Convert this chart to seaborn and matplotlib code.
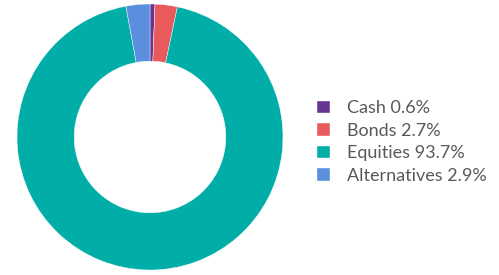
import matplotlib
matplotlib.use("Agg")
import matplotlib.pyplot as plt
import seaborn as sns

# Asset allocation
labels = ["Cash", "Bonds", "Equities", "Alternatives"]
values = [0.6, 2.7, 93.7, 2.9]
colors = ["#663594", "#E85A5C", "#00ADA7", "#5B8EDC"]

sns.set_theme(style="white")
plt.rcParams['font.family'] = ['Lato', 'DejaVu Sans']

fig = plt.figure(figsize=(4.99, 2.75), dpi=100)
ax = fig.add_axes([17 / 499, 5 / 275, 266 / 499, 266 / 275])

wedges, _ = ax.pie(values, colors=colors, startangle=90, counterclock=False,
                   wedgeprops=dict(width=0.43, edgecolor="white", linewidth=0.3))
ax.set_aspect("equal")
ax.set_xlim(-1, 1)
ax.set_ylim(-1, 1)

legend_labels = [f"{l} {v}%" for l, v in zip(labels, values)]
leg = fig.legend(wedges, legend_labels, loc="upper left",
                 bbox_to_anchor=(310 / 499, 1 - 93 / 275), frameon=False,
                 fontsize=13, handlelength=0.7, handleheight=0.7,
                 handletextpad=0.95, labelspacing=0.36, borderaxespad=0)
for t in leg.get_texts():
    t.set_color("#595959")

fig.savefig("out.png", dpi=100)
